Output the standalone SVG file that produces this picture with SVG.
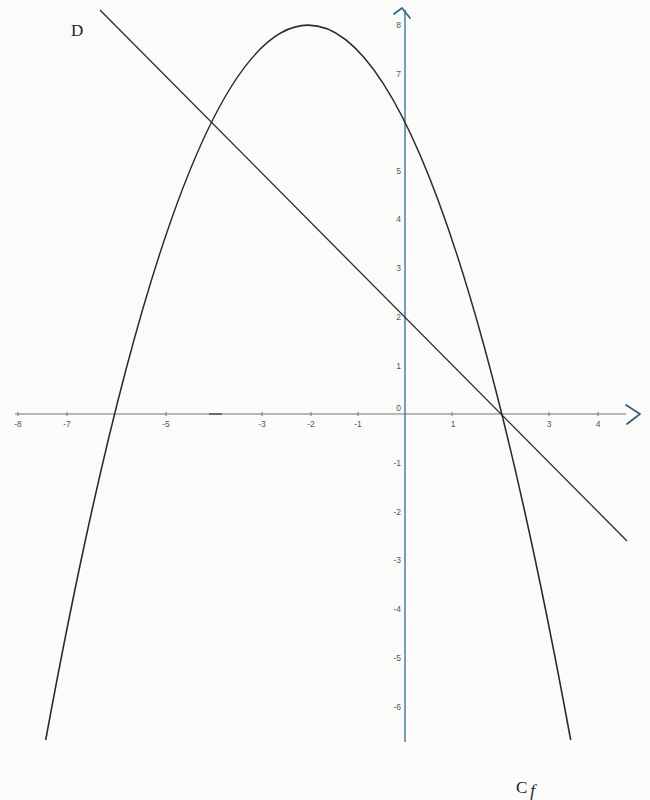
<svg xmlns="http://www.w3.org/2000/svg" width="650" height="800" viewBox="0 0 650 800">
<style>
.tick{stroke:#777;stroke-width:1}
.lab{font-family:"Liberation Sans",Arial,sans-serif;font-size:8.5px;fill:#555}
.xl{text-anchor:middle}
.yl{text-anchor:end}
.big{font-family:"Liberation Serif","Times New Roman",serif;font-size:17px;fill:#222}
</style>
<rect width="650" height="800" fill="#fbfcf9"/>
<g id="x-axis">
<line x1="15" y1="414" x2="626" y2="414" stroke="#777" stroke-width="1.1"/>
<path d="M626,405 L640,414 L627,424" fill="none" stroke="#3a5f7a" stroke-width="1.8" stroke-linecap="round" stroke-linejoin="round"/>
<g class="tick">
<line x1="18" y1="412" x2="18" y2="416"/><line x1="67" y1="412" x2="67" y2="416"/>
<line x1="166" y1="412" x2="166" y2="416"/><line x1="262" y1="412" x2="262" y2="416"/>
<line x1="311" y1="412" x2="311" y2="416"/><line x1="358" y1="412" x2="358" y2="416"/>
<line x1="452" y1="412" x2="452" y2="416"/><line x1="549" y1="412" x2="549" y2="416"/>
<line x1="598" y1="412" x2="598" y2="416"/>
</g>
<g class="lab xl">
<text x="18" y="427">-8</text><text x="67" y="427">-7</text><text x="166" y="427">-5</text>
<text x="262" y="427">-3</text><text x="311" y="427">-2</text><text x="358" y="427">-1</text>
<text x="453" y="427">1</text><text x="549" y="427">3</text><text x="598" y="427">4</text>
</g>
<line x1="209" y1="414" x2="222" y2="414" stroke="#555" stroke-width="1.6"/>
</g>
<g id="y-axis">
<line x1="405" y1="10" x2="405" y2="742" stroke="#2f6d8f" stroke-width="1.3"/>
<path d="M394,14 L402,8 L410,18" fill="none" stroke="#2f6d8f" stroke-width="1.8" stroke-linecap="round" stroke-linejoin="round"/>
<g class="lab yl">
<text x="401" y="28">8</text><text x="401" y="77">7</text><text x="401" y="174">5</text>
<text x="401" y="222">4</text><text x="401" y="271">3</text><text x="401" y="320">2</text>
<text x="401" y="369">1</text><text x="401" y="411">0</text><text x="401" y="466">-1</text>
<text x="401" y="515">-2</text><text x="401" y="563">-3</text><text x="401" y="612">-4</text>
<text x="401" y="661">-5</text><text x="401" y="710">-6</text>
</g>
</g>
<g id="curve-Cf">
<path d="M45.7,740 Q308.2,-689.7 570.7,740" fill="none" stroke="#2a2a2a" stroke-width="1.6"/>
</g>
<g id="line-D">
<line x1="100" y1="10" x2="627" y2="541" stroke="#2a2a2a" stroke-width="1.3"/>
</g>
<g id="labels">
<text class="big" x="71" y="36">D</text>
<text class="big" x="516" y="793">C<tspan font-style="italic" dx="3" dy="3">f</tspan></text>
</g>
</svg>
